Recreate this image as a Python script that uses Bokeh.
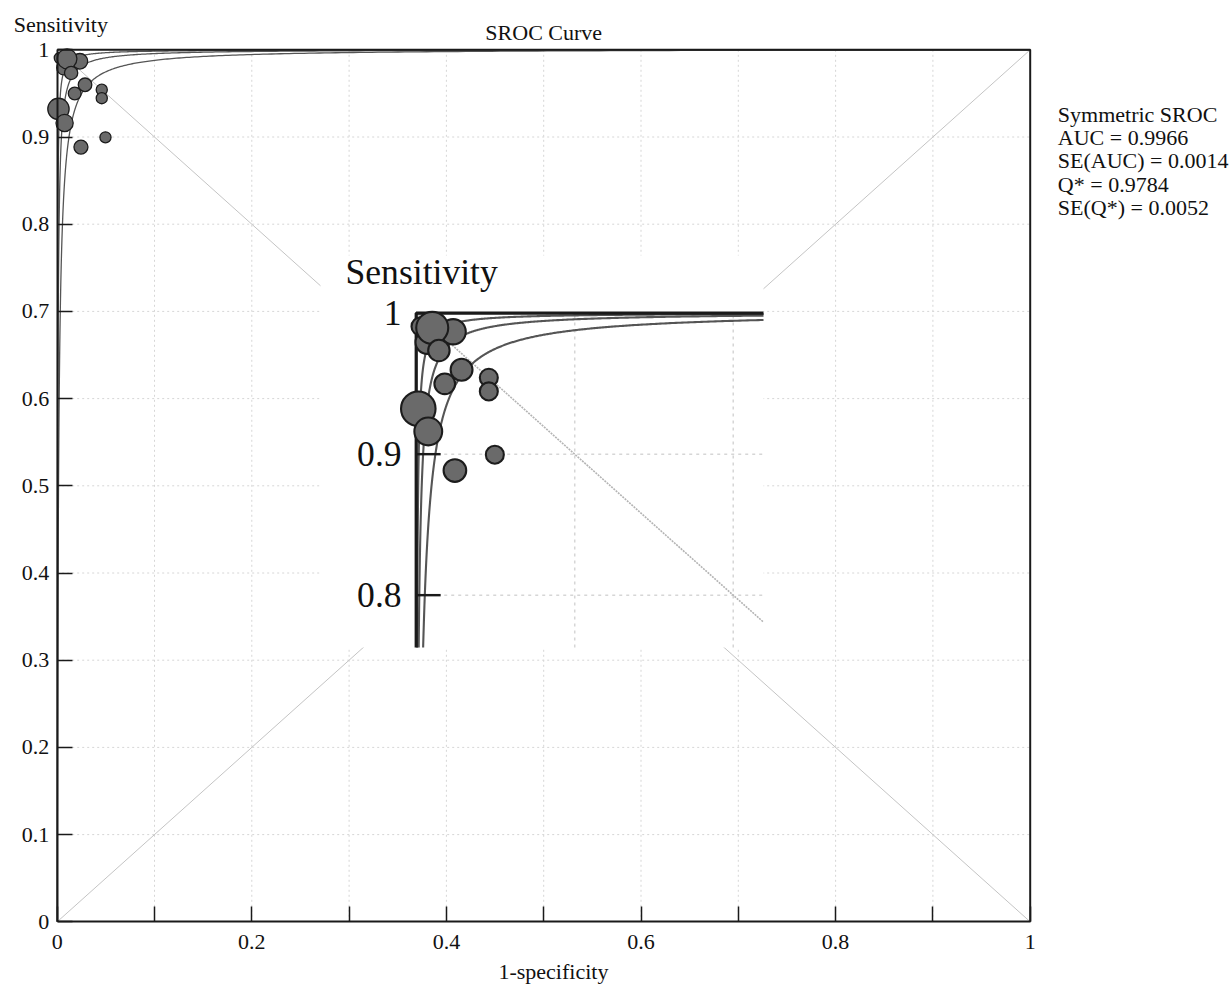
import numpy as np
from bokeh.plotting import figure
from bokeh.models import Range1d, FixedTicker, Label
from bokeh.core.properties import value
from bokeh.embed import file_html
from bokeh.resources import INLINE

# ---------------- data ----------------
study_fpr = [0.0027, 0.0069, 0.0233, 0.0101, 0.0143, 0.0286, 0.0180,
             0.0458, 0.0458, 0.0013, 0.0076, 0.0496, 0.0244]
study_tpr = [0.9906, 0.9794, 0.9868, 0.9896, 0.9735, 0.9599, 0.9499,
             0.9542, 0.9445, 0.9322, 0.9161, 0.8996, 0.8884]
study_weight = [31, 52, 61, 98, 44, 46, 41, 31, 31, 114, 74, 31, 49]

sroc_D = [6.60, 7.63, 8.65]          # symmetric SROC curves (lower, fit, upper)

model_name = "Symmetric SROC"
stat_names = ["AUC", "SE(AUC)", "Q*", "SE(Q*)"]
stat_values = [0.9966, 0.0014, 0.9784, 0.0052]

x_ticks = [0.0, 0.2, 0.4, 0.6, 0.8, 1.0]
x_tick_labels = ["0", "0.2", "0.4", "0.6", "0.8", "1"]
x_minor_ticks = [0.1, 0.3, 0.5, 0.7, 0.9]
y_ticks = [0.0, 0.1, 0.2, 0.3, 0.4, 0.5, 0.6, 0.7, 0.8, 0.9, 1.0]
y_tick_labels = ["0", "0.1", "0.2", "0.3", "0.4", "0.5", "0.6", "0.7", "0.8", "0.9", "1"]
grid_ticks = [0.1, 0.2, 0.3, 0.4, 0.5, 0.6, 0.7, 0.8, 0.9]

title_text = "SROC Curve"
x_label = "1-specificity"
y_label = "Sensitivity"

# ---------------- layout / style ----------------
W, H = 1232, 986
PX_X, PX_Y = 973.0, 872.0            # pixels per unit on each axis
X0_PX, Y1_PX = 56.7, 49.3            # canvas position of x=0 and y=1
FONT = "Liberation Serif"
FS = 22
M = 1.617                            # magnification of the inset
TICK_PX = 15
STANDOFF = 8

x_start = -X0_PX / PX_X
x_end = (W - X0_PX) / PX_X
y_end = 1 + Y1_PX / PX_Y
y_start = 1 - (H - Y1_PX) / PX_Y

# inset: region of the chart shown, and box where it is drawn (main units)
IX0, IX1, IY0, IY1 = -0.0604, 0.2191, 0.7629, 1.0409
BX0, BX1, BY0, BY1 = 0.2706, 0.7259, 0.3146, 0.7641

CURVE_C = "#555555"
PT_FILL = "#6a6a6a"
PT_LINE = "#1c1c1c"
AX_C = "#1a1a1a"
TXT_C = "#111111"
DIAG_C = "#c4c4c4"
GRID_C = "#d6d6d6"

# text anchor positions (chart units)
YLAB_X, YLAB_Y = -0.0446, 1.0294
TITLE_Y = 1.0204
XLAB_X, XLAB_Y = 0.510, -0.0570
BLOCK_X, BLOCK_Y, BLOCK_DY = 1.0284, 0.9262, 0.0268


def sroc(D, f):
    return 1.0 / (1.0 + np.exp(-(D + np.log(f / (1.0 - f)))))


def logit(q):
    return np.log(q / (1.0 - q))


p = figure(width=W, height=H, min_border=0,
           x_range=Range1d(x_start, x_end), y_range=Range1d(y_start, y_end),
           title=None, output_backend="svg", toolbar_location=None,
           background_fill_color="white", border_fill_color="white")
p.outline_line_color = None
p.xgrid.visible = False
p.ygrid.visible = False

for ax in (p.xaxis, p.yaxis):
    ax.fixed_location = 0
    ax.bounds = (0, 1)
    ax.axis_line_color = AX_C
    ax.axis_line_width = 2
    ax.major_tick_in = TICK_PX
    ax.major_tick_out = 0
    ax.minor_tick_in = TICK_PX
    ax.minor_tick_out = 0
    ax.major_tick_line_color = AX_C
    ax.minor_tick_line_color = AX_C
    ax.major_tick_line_width = 1.5
    ax.minor_tick_line_width = 1.5
    ax.major_label_text_font = FONT
    ax.major_label_text_font_size = f"{FS}px"
    ax.major_label_text_color = TXT_C
    ax.major_label_standoff = STANDOFF

p.xaxis.ticker = FixedTicker(ticks=x_ticks, minor_ticks=x_minor_ticks)
p.xaxis.major_label_overrides = dict(zip(x_ticks, x_tick_labels))
p.xaxis.major_label_standoff = 13
p.yaxis.ticker = FixedTicker(ticks=y_ticks, minor_ticks=[])
p.yaxis.major_label_overrides = dict(zip(y_ticks, y_tick_labels))

# ---------------- main chart ----------------
n = len(grid_ticks)
p.segment(x0=grid_ticks, y0=[0.0] * n, x1=grid_ticks, y1=[1.0] * n,
          line_color=GRID_C, line_width=1, line_dash="2 3")
p.segment(x0=[0.0] * n, y0=grid_ticks, x1=[1.0] * n, y1=grid_ticks,
          line_color=GRID_C, line_width=1, line_dash="2 3")

p.line([0, 1], [0, 1], line_color=DIAG_C, line_width=1)
p.line([0, 1], [1, 0], line_color=DIAG_C, line_width=1)

f_main = np.logspace(-7, np.log10(0.999999), 800)
for D in sroc_D:
    xs = np.concatenate([[0.0], f_main, [1.0]])
    ys = np.concatenate([[0.0], sroc(D, f_main), [1.0]])
    p.line(xs, ys, line_color=CURVE_C, line_width=1.3)

main_size = [2 * np.sqrt(w) for w in study_weight]
p.scatter(study_fpr, study_tpr, size=main_size, fill_color=PT_FILL,
          line_color=PT_LINE, line_width=1.3)

# frame border (top and right)
p.line([0, 1, 1], [1, 1, 0], line_color=AX_C, line_width=2)

# ---------------- inset (magnified top-left corner) ----------------
p.quad(left=[BX0], right=[BX1], bottom=[BY0], top=[BY1],
       fill_color="white", line_color=None)

ins = p.subplot(x_source=Range1d(IX0, IX1), y_source=Range1d(IY0, IY1),
                x_target=Range1d(BX0, BX1), y_target=Range1d(BY0, BY1))

tick_len = TICK_PX / PX_X
vis_x = [t for t in grid_ticks if t <= IX1]
vis_y = [t for t in grid_ticks if t >= IY0]
ins.segment(x0=vis_x, y0=[IY0] * len(vis_x), x1=vis_x, y1=[1.0] * len(vis_x),
            line_color=GRID_C, line_width=1.5, line_dash="3 4")
ins.segment(x0=[0.0] * len(vis_y), y0=vis_y, x1=[IX1] * len(vis_y), y1=vis_y,
            line_color=GRID_C, line_width=1.5, line_dash="3 4")

ins.line([0.0, IX1], [1.0, 1.0 - IX1], line_color="#b4b4b4", line_width=1.6,
         line_dash="2 1")

for D in sroc_D:
    f0 = 1.0 / (1.0 + np.exp(-(logit(IY0) - D)))
    f_in = np.logspace(np.log10(f0), np.log10(IX1), 500)
    ins.line(f_in, sroc(D, f_in), line_color=CURVE_C, line_width=1.3 * M)

# inset frame pieces (left axis and top border)
ins.line([0.0, 0.0, IX1], [IY0, 1.0, 1.0], line_color=AX_C, line_width=2 * M)

ins_ticks = [t for t in y_ticks if t >= IY0]
ins_labels = [l for t, l in zip(y_ticks, y_tick_labels) if t >= IY0]
ins.segment(x0=[0.0] * len(ins_ticks), y0=ins_ticks,
            x1=[tick_len] * len(ins_ticks), y1=ins_ticks,
            line_color=AX_C, line_width=1.5 * M)

ins.scatter(study_fpr, study_tpr, size=[s * M for s in main_size],
            fill_color=PT_FILL, line_color=PT_LINE, line_width=1.3 * M)

ins.text(x=[-(STANDOFF + 1) / PX_X] * len(ins_ticks), y=ins_ticks, text=ins_labels,
         text_font=value(FONT), text_font_size=value(f"{FS * M:.1f}px"),
         text_color=TXT_C, text_align="right", text_baseline="middle")
ins.text(x=[YLAB_X], y=[YLAB_Y], text=[y_label],
         text_font=value(FONT), text_font_size=value(f"{FS * M:.1f}px"),
         text_color=TXT_C, text_align="left", text_baseline="alphabetic")

# ---------------- texts ----------------
p.add_layout(Label(x=YLAB_X, y=YLAB_Y, text=y_label, text_font=FONT,
                   text_font_size=f"{FS}px", text_color=TXT_C,
                   text_align="left", text_baseline="alphabetic"))
p.add_layout(Label(x=0.5, y=TITLE_Y, text=title_text, text_font=FONT,
                   text_font_size=f"{FS}px", text_color=TXT_C,
                   text_align="center", text_baseline="alphabetic"))
p.add_layout(Label(x=XLAB_X, y=XLAB_Y, text=x_label, text_font=FONT,
                   text_font_size=f"{FS}px", text_color=TXT_C,
                   text_align="center", text_baseline="alphabetic"))

block = [model_name] + [f"{nm} = {v:.4f}" for nm, v in zip(stat_names, stat_values)]
for i, line in enumerate(block):
    p.add_layout(Label(x=BLOCK_X, y=BLOCK_Y - i * BLOCK_DY, text=line, text_font=FONT,
                       text_font_size=f"{FS}px", text_color=TXT_C,
                       text_align="left", text_baseline="alphabetic"))

open("out.html", "w").write(file_html(p, INLINE))
